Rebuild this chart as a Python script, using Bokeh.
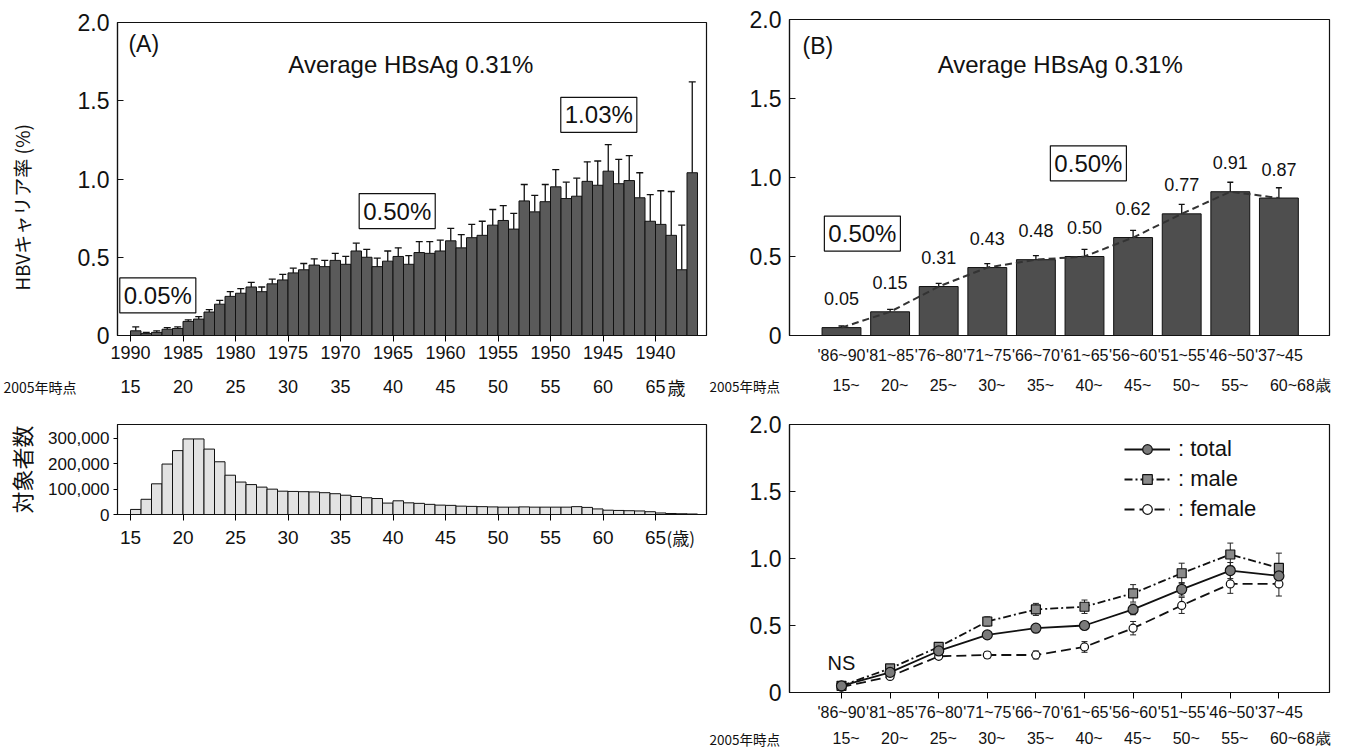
import math
from bokeh.plotting import figure
from bokeh.layouts import row, column
from bokeh.models import (Range1d, FixedTicker, Label, Whisker, TeeHead,
                          ColumnDataSource, Legend, LegendItem, NumeralTickFormatter)
from bokeh.embed import file_html
from bokeh.resources import INLINE
from bokeh.core.properties import value

SANS = "Liberation Sans"
CJK = "Noto Sans CJK JP"
INK = "#111111"

# ---------------- data ----------------
# Panel A: carrier rate by single birth year (age in 2005: 15..68)
ages_a = list(range(15, 69))
rate_a = [0.03, 0.012, 0.02, 0.04, 0.045, 0.09, 0.105, 0.15, 0.20, 0.25,
          0.27, 0.31, 0.28, 0.33, 0.355, 0.40, 0.42, 0.45, 0.44, 0.48,
          0.455, 0.54, 0.50, 0.44, 0.475, 0.505, 0.455, 0.53, 0.525, 0.54,
          0.605, 0.56, 0.625, 0.64, 0.705, 0.735, 0.68, 0.86, 0.79, 0.855,
          0.95, 0.875, 0.89, 0.985, 0.96, 1.05, 0.97, 0.99, 0.88, 0.73,
          0.71, 0.64, 0.42, 1.04]
err_a = [0.055, 0.02, 0.03, 0.05, 0.055, 0.10, 0.12, 0.165, 0.225, 0.28,
         0.30, 0.34, 0.31, 0.36, 0.39, 0.43, 0.46, 0.49, 0.48, 0.525,
         0.505, 0.59, 0.55, 0.495, 0.54, 0.56, 0.51, 0.60, 0.60, 0.61,
         0.685, 0.645, 0.71, 0.73, 0.805, 0.83, 0.78, 0.965, 0.895, 0.965,
         1.06, 0.98, 1.005, 1.11, 1.115, 1.22, 1.125, 1.15, 1.04, 0.90,
         0.925, 0.92, 0.705, 1.62]
# number of subjects by age
subjects = [20000, 60000, 121000, 199000, 252000, 298000, 298000, 258000, 208000, 155000,
            128000, 118000, 108000, 100000, 92000, 91000, 90000, 89000, 86000, 82000,
            76000, 71000, 66000, 63000, 45000, 54000, 46000, 44000, 40000, 37000,
            36000, 33000, 32000, 31000, 30000, 29000, 29000, 30000, 29000, 29000,
            29000, 29000, 31000, 28000, 22000, 17000, 16000, 15000, 14000, 11000,
            6000, 4000, 3000, 2000]
age_ticks = [15, 20, 25, 30, 35, 40, 45, 50, 55, 60, 65]
year_labels = ["1990", "1985", "1980", "1975", "1970", "1965", "1960", "1955", "1950", "1945", "1940"]
age_labels = ["15", "20", "25", "30", "35", "40", "45", "50", "55", "60", "65"]
count_ticks = [0, 100000, 200000, 300000]

# Panel B / C: 5-year birth cohorts
groups_b = ["'86~90", "'81~85", "'76~80", "'71~75", "'66~70", "'61~65", "'56~60", "'51~55", "'46~50", "'37~45"]
ages_b = ["15~", "20~", "25~", "30~", "35~", "40~", "45~", "50~", "55~", "60~68歳"]
rate_b = [0.05, 0.15, 0.31, 0.43, 0.48, 0.50, 0.62, 0.77, 0.91, 0.87]
err_b = [0.06, 0.165, 0.33, 0.455, 0.505, 0.545, 0.665, 0.83, 0.97, 0.935]

total_c = [0.05, 0.15, 0.31, 0.43, 0.48, 0.50, 0.62, 0.77, 0.91, 0.87]
total_err = [0.01, 0.015, 0.02, 0.02, 0.02, 0.03, 0.04, 0.05, 0.06, 0.06]
male_c = [0.05, 0.18, 0.34, 0.53, 0.62, 0.64, 0.74, 0.89, 1.03, 0.93]
male_err = [0.01, 0.02, 0.02, 0.035, 0.045, 0.05, 0.065, 0.075, 0.085, 0.11]
female_c = [0.04, 0.12, 0.27, 0.28, 0.28, 0.34, 0.48, 0.65, 0.81, 0.81]
female_err = [0.01, 0.015, 0.02, 0.025, 0.03, 0.04, 0.05, 0.06, 0.07, 0.09]

rate_ticks = [0, 0.5, 1.0, 1.5, 2.0]
rate_tick_labels = ["0", "0.5", "1.0", "1.5", "2.0"]
prefix = "2005年時点"

# ---------------- geometry (pixels) ----------------
LEFT_W = 708          # width of the left column
A_L, A_FW = 117, 589  # frame left / width of panel A and histogram
A_K, A_PX15 = 10.5, 130.0   # px per year, page px of age 15
B_L, B_FW, B_R = 81, 540, 10
B_K, B_PX0 = 48.6, 841.0 - LEFT_W   # px per cohort, px of first cohort in right column


def a_range(px_left, px_right):
    return Range1d(15 + (px_left - A_PX15) / A_K, 15 + (px_right - A_PX15) / A_K)


def b_range(px_left, px_right):
    return Range1d((px_left - B_PX0) / B_K, (px_right - B_PX0) / B_K)


def no_align(p):
    try:
        p.frame_align = False
    except AttributeError:
        pass


# ---------------- helpers ----------------
def base_style(p):
    p.grid.visible = False
    p.outline_line_color = INK
    p.outline_line_width = 1.2
    p.background_fill_color = "white"
    p.border_fill_color = "white"
    no_align(p)


def rate_yaxis(p):
    ax = p.yaxis[0]
    ax.ticker = FixedTicker(ticks=rate_ticks)
    ax.major_label_overrides = dict(zip(rate_ticks, rate_tick_labels))
    ax.major_label_text_font = SANS
    ax.major_label_text_font_size = "23px"
    ax.major_label_text_color = INK
    ax.major_tick_in = 6
    ax.major_tick_out = 0
    ax.minor_tick_line_color = None
    ax.axis_line_color = INK
    ax.axis_line_width = 1.2
    ax.major_tick_line_color = INK
    ax.major_label_standoff = 8
    return ax


def text_label(p, text, x, y, size, font=SANS, align="center", **kw):
    lab = Label(x=x, y=y, text=text, text_font=font, text_font_size=size, text_color=INK,
                text_align=align, text_baseline="middle", **kw)
    p.add_layout(lab)
    return lab


def box_label(p, text, x, y):
    lab = Label(x=x, y=y, text=text, text_font=SANS, text_font_size="24px",
                text_color=INK, text_align="center", text_baseline="middle",
                border_line_color=INK, border_line_width=1.2,
                background_fill_color="white", padding=4)
    p.add_layout(lab)


def strip(width, height, xr):
    s = figure(frame_width=width, frame_height=height, min_border=0,
               min_border_left=0, min_border_right=0, min_border_top=0, min_border_bottom=0,
               x_range=xr, y_range=Range1d(0, height),
               x_axis_location=None, y_axis_location=None,
               toolbar_location=None, output_backend="svg")
    s.grid.visible = False
    s.outline_line_color = None
    s.background_fill_color = "white"
    s.border_fill_color = "white"
    no_align(s)
    return s


def strip_text(s, xs, y, labels, size, font=SANS, align="center", x_offset=0):
    s.text(x=xs, y=y, text=labels, text_font=value(font), text_font_size=size,
           text_color=INK, text_align=align, text_baseline="middle", x_offset=x_offset)


# ---------------- Panel A ----------------
pA = figure(frame_width=A_FW, frame_height=313, min_border_left=A_L,
            min_border_right=LEFT_W - A_L - A_FW, min_border_top=22, min_border_bottom=36,
            x_range=a_range(A_L, A_L + A_FW), y_range=Range1d(0, 2.0),
            toolbar_location=None, output_backend="svg")
base_style(pA)
ya_A = rate_yaxis(pA)
ya_A.axis_label = "HBVキャリア率 (%)" + "\u3000\u3000\u3000"
ya_A.axis_label_text_font = CJK
ya_A.axis_label_text_font_size = "19px"
ya_A.axis_label_text_font_style = "normal"
ya_A.axis_label_text_color = INK
ya_A.axis_label_standoff = 40
xa = pA.xaxis[0]
xa.ticker = FixedTicker(ticks=age_ticks)
xa.major_label_overrides = dict(zip(age_ticks, year_labels))
xa.major_label_text_font = SANS
xa.major_label_text_font_size = "18px"
xa.major_label_text_color = INK
xa.major_tick_out = 6
xa.major_tick_in = 0
xa.minor_tick_line_color = None
xa.axis_line_color = INK
xa.axis_line_width = 1.2
xa.major_label_standoff = 4

srcA = ColumnDataSource(dict(x=[a + 0.5 for a in ages_a], top=rate_a, err=err_a))
pA.vbar(x="x", top="top", width=1, source=srcA, fill_color="#5a5a5a",
        line_color=INK, line_width=1)
pA.add_layout(Whisker(source=srcA, base="x", lower="top", upper="err", dimension="height",
                      line_color=INK, line_width=1.3, lower_head=None,
                      upper_head=TeeHead(size=7, line_color=INK, line_width=1.3)))

text_label(pA, "(A)", 14.8, 1.86, "23px", align="left")
text_label(pA, "Average HBsAg 0.31%", 41.7, 1.73, "24px")
box_label(pA, "0.05%", 17.6, 0.256)
box_label(pA, "0.50%", 40.4, 0.795)
box_label(pA, "1.03%", 59.6, 1.41)

# age-in-2005 row under panel A
sA = strip(LEFT_W, 28, a_range(0, LEFT_W))
strip_text(sA, age_ticks, 13, age_labels, "18px")
strip_text(sA, [15 + (3 - A_PX15) / A_K], 13, [prefix], "14px", font=CJK, align="left")
strip_text(sA, [age_ticks[-1]], 13, ["歳"], "18px", font=CJK, align="left", x_offset=12)

# ---------------- Histogram ----------------
pH = figure(frame_width=A_FW, frame_height=90, min_border_left=A_L,
            min_border_right=LEFT_W - A_L - A_FW, min_border_top=25, min_border_bottom=11,
            x_range=a_range(A_L, A_L + A_FW), y_range=Range1d(0, 355000),
            toolbar_location=None, output_backend="svg")
base_style(pH)
yh = pH.yaxis[0]
yh.ticker = FixedTicker(ticks=count_ticks)
yh.formatter = NumeralTickFormatter(format="0,0")
yh.major_label_text_font = SANS
yh.major_label_text_font_size = "17px"
yh.major_label_text_color = INK
yh.major_tick_in = 0
yh.major_tick_out = 4
yh.minor_tick_line_color = None
yh.axis_line_color = INK
yh.major_label_standoff = 4
yh.axis_label = "対象者数"
yh.axis_label_text_font = CJK
yh.axis_label_text_font_size = "22px"
yh.axis_label_text_font_style = "normal"
yh.axis_label_text_color = INK
yh.axis_label_standoff = 8
xh = pH.xaxis[0]
xh.ticker = FixedTicker(ticks=age_ticks)
xh.major_label_overrides = {t: "" for t in age_ticks}
xh.major_label_text_font_size = "1px"
xh.major_label_standoff = 0
xh.major_tick_out = 6
xh.major_tick_in = 0
xh.minor_tick_line_color = None
xh.axis_line_color = INK
pH.vbar(x=[a + 0.5 for a in ages_a], top=subjects, width=1, fill_color="#e2e2e2",
        line_color=INK, line_width=1)

sH = strip(LEFT_W, 28, a_range(0, LEFT_W))
strip_text(sH, age_ticks, 16, age_labels, "19px")
strip_text(sH, [age_ticks[-1]], 16, ["(歳)"], "17px", font=CJK, align="left", x_offset=11)

# ---------------- Panel B ----------------
idx = list(range(len(groups_b)))
RIGHT_W = B_L + B_FW + B_R
pB = figure(frame_width=B_FW, frame_height=316, min_border_left=B_L, min_border_right=B_R,
            min_border_top=19, min_border_bottom=34,
            x_range=b_range(B_L, B_L + B_FW), y_range=Range1d(0, 2.0),
            toolbar_location=None, output_backend="svg")
base_style(pB)
rate_yaxis(pB)
xb = pB.xaxis[0]
xb.ticker = FixedTicker(ticks=idx)
xb.major_label_overrides = dict(zip(idx, groups_b))
xb.major_label_text_font = SANS
xb.major_label_text_font_size = "16px"
xb.major_label_text_color = INK
xb.major_tick_out = 0
xb.major_tick_in = 0
xb.major_tick_line_color = None
xb.minor_tick_line_color = None
xb.axis_line_color = INK
xb.axis_line_width = 1.2
xb.major_label_standoff = 11

srcB = ColumnDataSource(dict(x=idx, top=rate_b, err=err_b,
                             txt=["%.2f" % v for v in rate_b]))
pB.vbar(x="x", top="top", width=0.8, source=srcB, fill_color="#4e4e4e",
        line_color=INK, line_width=1)
pB.add_layout(Whisker(source=srcB, base="x", lower="top", upper="err", dimension="height",
                      line_color=INK, line_width=1.3, lower_head=None,
                      upper_head=TeeHead(size=6, line_color=INK, line_width=1.3)))
pB.line(x="x", y="top", source=srcB, line_color="#333333", line_width=2, line_dash="7 4")
pB.text(x="x", y="top", text="txt", source=srcB, y_offset=-29,
        text_font=value(SANS), text_font_size="18px", text_color=INK,
        text_align="center", text_baseline="middle")
text_label(pB, "(B)", -0.80, 1.83, "23px", align="left")
text_label(pB, "Average HBsAg 0.31%", 4.5, 1.715, "24px")
box_label(pB, "0.50%", 0.43, 0.645)
box_label(pB, "0.50%", 5.08, 1.09)

sB = strip(RIGHT_W, 29, b_range(0, RIGHT_W))
strip_text(sB, idx, 13, ages_b, "16px", align="left", x_offset=-9)
strip_text(sB, [(1 - B_PX0) / B_K], 13, [prefix], "13.5px", font=CJK, align="left")

# ---------------- Panel C ----------------
pC = figure(frame_width=B_FW, frame_height=268, min_border_left=B_L, min_border_right=B_R,
            min_border_top=26, min_border_bottom=33,
            x_range=b_range(B_L, B_L + B_FW), y_range=Range1d(0, 2.0),
            toolbar_location=None, output_backend="svg")
base_style(pC)
rate_yaxis(pC)
xc = pC.xaxis[0]
xc.ticker = FixedTicker(ticks=idx)
xc.major_label_overrides = dict(zip(idx, groups_b))
xc.major_label_text_font = SANS
xc.major_label_text_font_size = "16px"
xc.major_label_text_color = INK
xc.major_tick_out = 6
xc.major_tick_in = 0
xc.minor_tick_line_color = None
xc.axis_line_color = INK
xc.axis_line_width = 1.2
xc.major_label_standoff = 5


def series(p, vals, errs, dash, marker, fill, size):
    src = ColumnDataSource(dict(x=idx, y=vals,
                                lo=[v - e for v, e in zip(vals, errs)],
                                hi=[v + e for v, e in zip(vals, errs)]))
    p.add_layout(Whisker(source=src, base="x", lower="lo", upper="hi", dimension="height",
                         line_color="#222222", line_width=1,
                         upper_head=TeeHead(size=6, line_color="#222222", line_width=1),
                         lower_head=TeeHead(size=6, line_color="#222222", line_width=1)))
    ln = p.line(x="x", y="y", source=src, line_color=INK, line_width=1.8, line_dash=dash)
    sc = p.scatter(x="x", y="y", source=src, marker=marker, size=size,
                   fill_color=fill, line_color=INK, line_width=1.2)
    return ln, sc


female_r = series(pC, female_c, female_err, "10 5", "circle", "white", 8)
male_r = series(pC, male_c, male_err, "8 3 2 3", "square", "#8a8a8a", 9)
total_r = series(pC, total_c, total_err, "solid", "circle", "#7a7a7a", 10)

legend = Legend(items=[LegendItem(label=": total", renderers=list(total_r)),
                       LegendItem(label=": male", renderers=list(male_r)),
                       LegendItem(label=": female", renderers=list(female_r))],
                location=(335, 170), orientation="vertical",
                glyph_width=46, glyph_height=24, label_height=24, spacing=4,
                label_standoff=8, padding=0, margin=0,
                border_line_color=None, background_fill_alpha=0,
                label_text_font=SANS, label_text_font_size="22px", label_text_color=INK)
pC.add_layout(legend)
text_label(pC, "NS", 0, 0.22, "20px")

sC = strip(RIGHT_W, 24, b_range(0, RIGHT_W))
strip_text(sC, idx, 11, ages_b, "16px", align="left", x_offset=-9)
strip_text(sC, [(1 - B_PX0) / B_K], 11, [prefix], "13.5px", font=CJK, align="left")

layout = row(column(pA, sA, pH, sH), column(pB, sB, pC, sC))
open("out.html", "w").write(file_html(layout, INLINE))
